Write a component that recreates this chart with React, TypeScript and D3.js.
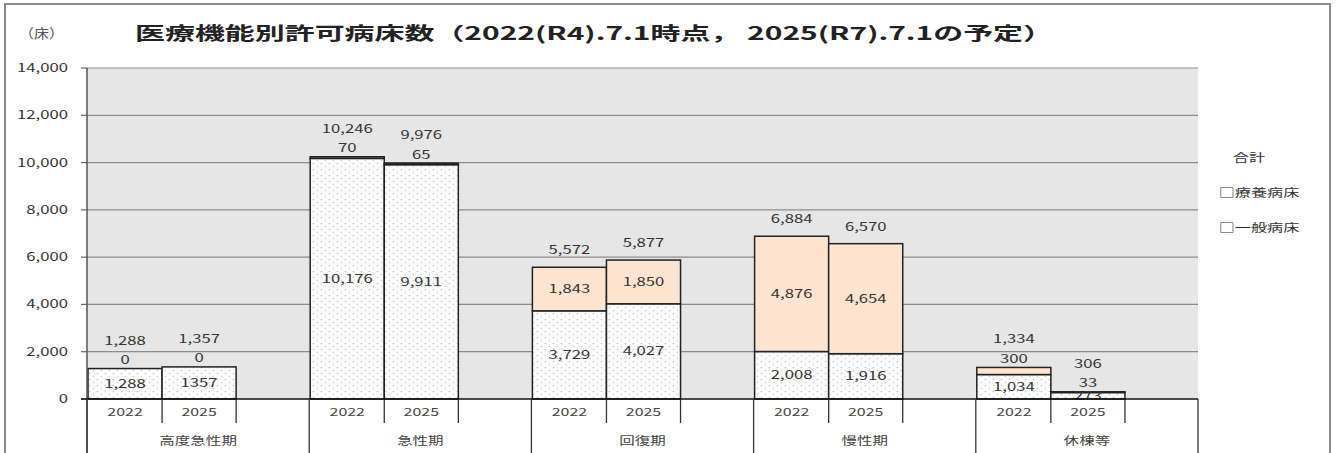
import React from "react";
import * as d3 from "d3";

const categories = ["高度急性期", "急性期", "回復期", "慢性期", "休棟等"];
const years = ["2022", "2025"];
// 一般病床
const general2022 = [1288, 10176, 3729, 2008, 1034];
const general2025 = [1357, 9911, 4027, 1916, 273];
// 療養病床
const ryoyo2022 = [0, 70, 1843, 4876, 300];
const ryoyo2025 = [0, 65, 1850, 4654, 33];
// 合計
const total2022 = [1288, 10246, 5572, 6884, 1334];
const total2025 = [1357, 9976, 5877, 6570, 306];
// general label text (as printed)
const generalLabel2025 = ["1357", "9,911", "4,027", "1,916", "273"];
const yTicks = [0, 2000, 4000, 6000, 8000, 10000, 12000, 14000];
const legendItems = ["合計", "□療養病床", "□一般病床"];
const title = "医療機能別許可病床数（2022(R4).7.1時点， 2025(R7).7.1の予定）";

const W = 1337, H = 453;
const L = 87, R = 1198, T = 68, B = 399;
const FONT = "'Noto Sans CJK JP', 'Noto Sans', sans-serif";
const SX = 1.45;

function ST({ x, y, size = 11.5, anchor = "middle", fill = "#333", sx = SX, children }: any) {
  return (
    <text
      transform={`translate(${x},${y}) scale(${sx},1)`}
      fontSize={size}
      textAnchor={anchor}
      fill={fill}
    >
      {children}
    </text>
  );
}

export default function App() {
  const y = d3.scaleLinear().domain([0, 14000]).range([B, T]);
  const x0 = d3.scaleBand().domain(categories).range([L, R]).paddingInner(0).paddingOuter(0);
  const x1 = d3.scaleBand().domain(years).range([0, (x0.bandwidth() * 2) / 3]).padding(0);
  const fmt = d3.format(",");

  const rows = categories.flatMap((c, i) => [
    { c, yr: "2022", g: general2022[i], r: ryoyo2022[i], t: total2022[i], gl: fmt(general2022[i]) },
    { c, yr: "2025", g: general2025[i], r: ryoyo2025[i], t: total2025[i], gl: generalLabel2025[i] },
  ]);

  return (
    <div style={{ position: "fixed", left: 0, top: 0 }}>
      <svg width={W} height={H} style={{ display: "block", fontFamily: FONT }}>
        <defs>
          <pattern id="dots" width="8" height="6" patternUnits="userSpaceOnUse">
            <rect width="8" height="6" fill="#fbfbfb" />
            <circle cx="1.5" cy="1.5" r="0.75" fill="#c2c2c2" />
            <circle cx="5.5" cy="4.5" r="0.75" fill="#cdcdcd" />
          </pattern>
        </defs>
        <rect x={0} y={0} width={W} height={H} fill="#fff" />
        <rect x={5} y={4} width={1325} height={470} fill="none" stroke="#8a8a8a" strokeWidth={2} />
        <ST x={19} y={38} size={13} anchor="start" fill="#555" sx={1.15}>（床）</ST>
        <text x={135} y={40} fontSize={18} fontWeight="bold" fill="#222" textLength={918} lengthAdjust="spacingAndGlyphs">
          {title}
        </text>
        <rect x={L} y={T} width={R - L} height={B - T} fill="#e6e6e6" />
        {yTicks.map((v) => (
          <g key={v}>
            {v > 0 && <line x1={L} x2={R} y1={y(v)} y2={y(v)} stroke="#8c8c8c" strokeWidth={1.2} />}
            <line x1={81} x2={L} y1={y(v)} y2={y(v)} stroke="#666" strokeWidth={1.2} />
            <ST x={68} y={y(v) + 4} anchor="end">{fmt(v)}</ST>
          </g>
        ))}
        {rows.map((d, i) => {
          const bx = (x0(d.c) as number) + (x1(d.yr) as number) + 1;
          const bw = x1.bandwidth();
          const cx = bx + bw / 2;
          const yTop = y(d.t);
          const yMid = y(d.g);
          const small = y(d.g) - y(d.t) < 14;
          const rLabelY = small ? yTop - 4.5 : (yTop + yMid) / 2 + 4;
          const tLabelY = small ? yTop - 24 : yTop - 13;
          return (
            <g key={i}>
              <rect x={bx} y={yMid} width={bw} height={B - yMid} fill="url(#dots)" stroke="#222" strokeWidth={1.5} />
              {d.r > 0 && (
                <rect x={bx} y={yTop} width={bw} height={yMid - yTop} fill="#fde4d0" stroke="#222" strokeWidth={1.5} />
              )}
              <ST x={cx} y={(yMid + B) / 2 + 4}>{d.gl}</ST>
              <ST x={cx} y={rLabelY}>{fmt(d.r)}</ST>
              <ST x={cx} y={tLabelY}>{fmt(d.t)}</ST>
              <ST x={cx} y={416} size={11} fill="#444">{d.yr}</ST>
              <line x1={bx + bw} x2={bx + bw} y1={B} y2={423} stroke="#333" strokeWidth={1.3} />
            </g>
          );
        })}
        <line x1={L} x2={L} y1={T} y2={H} stroke="#555" strokeWidth={1.5} />
        <line x1={81} x2={R} y1={B} y2={B} stroke="#111" strokeWidth={1.5} />
        {categories.map((c) => (
          <g key={c}>
            <line x1={(x0(c) as number)} x2={(x0(c) as number)} y1={B} y2={H} stroke="#333" strokeWidth={1.3} />
            <ST x={(x0(c) as number) + x0.bandwidth() / 2} y={445} size={11.5} fill="#444" sx={1.35}>{c}</ST>
          </g>
        ))}
        <line x1={R} x2={R} y1={B} y2={H} stroke="#333" strokeWidth={1.3} />
        {legendItems.map((t, i) => (
          <ST key={t} x={i === 0 ? 1249 : 1259} y={162 + i * 35} size={11.5} fill="#333" sx={1.4}>{t}</ST>
        ))}
      </svg>
    </div>
  );
}
